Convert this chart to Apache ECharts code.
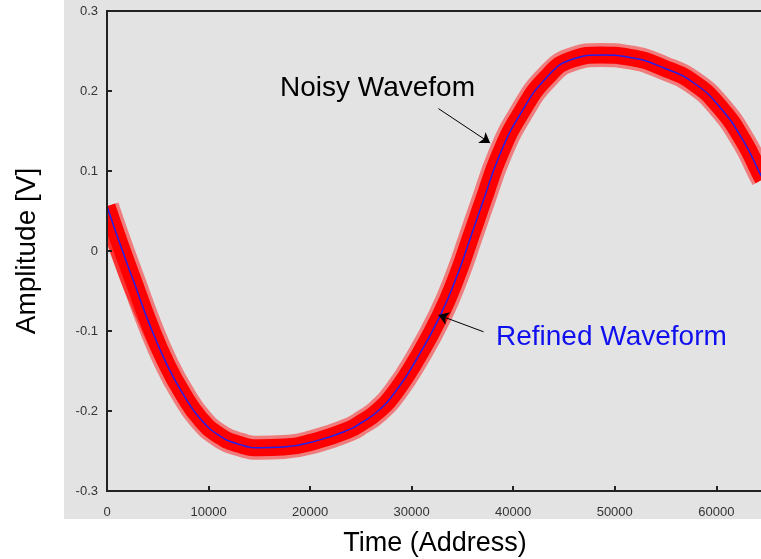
<!DOCTYPE html>
<html>
<head>
<meta charset="utf-8">
<script src="https://cdn.jsdelivr.net/npm/echarts@6/dist/echarts.min.js"></script>
<style>
  html, body { margin: 0; padding: 0; background: #fff; }
  #chart { width: 761px; height: 559px; }
</style>
</head>
<body>
<div id="chart"></div>
<script>
// sample address (x) and refined amplitude
const address = [0, 1300, 2600, 4200, 5900, 7500, 9200, 11100, 13100, 15000, 17400, 20700, 23900, 25000, 26600, 28400, 30500, 32800, 34500, 35800, 37000, 38700, 40700, 43300, 45900, 48600, 51500, 54800, 57800, 60400, 62700, 64300, 64600]
const refined = [0.056, 0.008, -0.037, -0.092, -0.142, -0.179, -0.210, -0.231, -0.242, -0.246, -0.245, -0.237, -0.223, -0.215, -0.201, -0.176, -0.135, -0.081, -0.030, 0.017, 0.061, 0.121, 0.171, 0.217, 0.240, 0.245, 0.242, 0.229, 0.210, 0.179, 0.137, 0.097, 0.090]

// the second, lower noisy branch seen at the start of the trace
const branchAddress = [0, 1600, 3250, 5200, 7200, 9200, 11000]
const branchValues = [0.028, -0.031, -0.081, -0.135, -0.181, -0.214, -0.233]

const yTicks = [-0.3, -0.2, -0.1, 0, 0.1, 0.2, 0.3]
const xTicks = [0, 10000, 20000, 30000, 40000, 50000, 60000]

const pairs = (xs, ys) => xs.map((x, i) => [x, ys[i]])

var chart = echarts.init(document.getElementById('chart'))
chart.setOption({
  animation: false,
  textStyle: { fontFamily: 'Liberation Sans, Arial, sans-serif' },
  graphic: [
    { type: 'rect', z: -10, silent: true, shape: { x: 64, y: 0, width: 697, height: 519 }, style: { fill: '#e3e3e3' } },
    // hides the part of the thick red stroke that spills left of the y axis
    { type: 'rect', z: 5, silent: true, shape: { x: 64, y: 0, width: 42, height: 519 }, style: { fill: '#e3e3e3' } },
    { type: 'text', left: 280, top: 74, z: 100, style: { text: 'Noisy Wavefom', fill: '#000', font: '28px Liberation Sans' } },
    { type: 'text', left: 496, top: 323, z: 100, style: { text: 'Refined Waveform', fill: '#1010ee', font: '28px Liberation Sans' } }
  ],
  grid: { left: 107, top: 11, right: -2, bottom: 68, outerBoundsMode: 'none', containLabel: false,
    show: true, borderColor: '#222', borderWidth: 2, backgroundColor: 'transparent' },
  xAxis: {
    type: 'value', min: 0, max: 64600, interval: 10000, z: 10,
    name: 'Time (Address)', nameLocation: 'middle', nameGap: 39,
    nameTextStyle: { fontSize: 27, color: '#000' },
    axisLine: { onZero: false, lineStyle: { color: '#222', width: 2 } },
    axisTick: { inside: true, length: 5, lineStyle: { color: '#222', width: 2 } },
    axisLabel: { fontSize: 13, color: '#333', margin: 15, showMaxLabel: false,
      formatter: v => xTicks.includes(v) ? String(v) : '' },
    splitLine: { show: false }
  },
  yAxis: {
    type: 'value', min: -0.3, max: 0.3, interval: 0.1, z: 10,
    name: 'Amplitude [V]', nameLocation: 'middle', nameGap: 66,
    nameTextStyle: { fontSize: 28, color: '#000' },
    axisLine: { onZero: false, lineStyle: { color: '#222', width: 2 } },
    axisTick: { inside: true, length: 5, lineStyle: { color: '#222', width: 2 } },
    axisLabel: { fontSize: 13, color: '#333', margin: 9,
      formatter: v => {
        const t = yTicks.find(k => Math.abs(k - v) < 1e-9)
        return t === undefined ? '' : (t === 0 ? '0' : t.toFixed(1))
      } },
    splitLine: { show: false }
  },
  series: [
    {
      name: 'Noisy halo', type: 'line', smooth: true, symbol: 'none', silent: true,
      data: pairs(address, refined),
      lineStyle: { color: 'rgba(255,0,0,0.45)', width: 24, cap: 'butt', join: 'round' }
    },
    {
      name: 'Noisy branch', type: 'line', smooth: true, symbol: 'none', silent: true,
      data: pairs(branchAddress, branchValues),
      lineStyle: { color: 'rgba(255,20,20,0.7)', width: 9, cap: 'butt' }
    },
    {
      name: 'Noisy Wavefom', type: 'line', smooth: true, symbol: 'none', silent: true,
      data: pairs(address, refined),
      lineStyle: { color: '#ff0000', width: 17, cap: 'butt', join: 'round' }
    },
    {
      name: 'Refined Waveform', type: 'line', smooth: true, symbol: 'none', silent: true,
      data: pairs(address, refined),
      lineStyle: { color: '#2020ee', width: 1.5 },
      markLine: {
        silent: true, symbol: ['none', 'arrow'], symbolSize: 10,
        label: { show: false },
        lineStyle: { color: '#000', width: 1, type: 'solid' },
        data: [
          [{ coord: [32640, 0.178] }, { coord: [37730, 0.135] }],
          [{ coord: [37080, -0.101] }, { coord: [32640, -0.080] }]
        ]
      }
    }
  ]
})
</script>
</body>
</html>
